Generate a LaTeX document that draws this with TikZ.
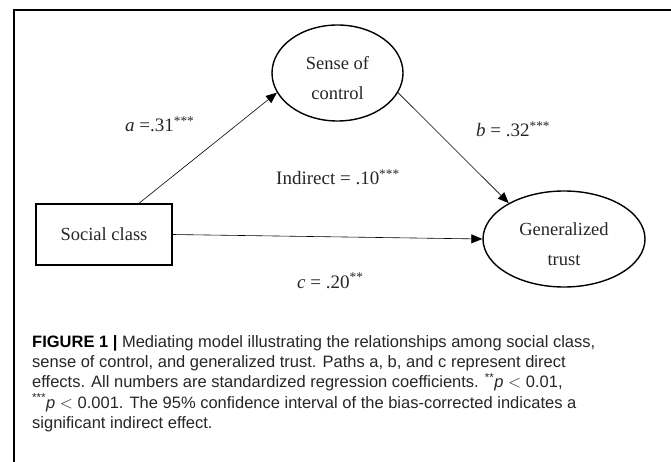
\documentclass[tikz,border=0pt]{standalone}
\usepackage{fontspec}
\setmainfont{Liberation Serif}
\newfontfamily\capfont{Liberation Sans}
\usetikzlibrary{shapes.geometric,arrows.meta}
\newcommand{\ellipsetext}[1]{\raisebox{-9.5pt}[0pt][0pt]{\begin{tabular}[c]{@{}c@{}}#1\end{tabular}}}
\begin{document}
\begin{tikzpicture}[x=1pt,y=-1pt,
  frameline/.style={line width=1.8pt,black},
  boxnode/.style={draw,line width=1.4pt,rectangle,minimum width=136pt,minimum height=61pt,inner sep=0pt,font=\fontsize{18.5}{30}\selectfont,text=black!85},
  ellnode/.style={draw,line width=1.4pt,ellipse,inner sep=0pt,font=\fontsize{18.5}{30}\selectfont,text=black!85},
  arr/.style={line width=0.6pt,-{Triangle[length=11pt,width=9pt]}},
  lbl/.style={anchor=base west,inner sep=0pt,font=\fontsize{19}{22}\selectfont,text=black!85},
  captext/.style={anchor=north west,inner sep=0pt,align=left,text=black!85,font=\capfont\fontsize{16.5}{20.3}\selectfont}
]
\useasboundingbox (0,0) rectangle (671,462);
\coordinate (ftl) at (14,10);
\coordinate (ftr) at (671,10);
\coordinate (fbl) at (14,462);
\draw[frameline] (ftr) -- (ftl) -- (fbl);

\node[boxnode] (soc) at (104,234.5) {Social class};
\node[ellnode,minimum width=131pt,minimum height=96pt] (sense) at (337.5,73) {\ellipsetext{Sense of\\control}};
\node[ellnode,minimum width=162pt,minimum height=96pt] (trust) at (564,239) {\ellipsetext{Generalized\\trust}};

\draw[arr] ([xshift=35pt]soc.north) -- (sense.198);
\draw[arr] (sense.-18) -- (trust.147);
\draw[arr] (soc.east) -- (trust.west);

\node[lbl] (la) at (125,132) {\textit{a} =.31\textsuperscript{***}};
\node[lbl] (lb) at (476,137) {\textit{b} = .32\textsuperscript{***}};
\node[lbl] (li) at (276,185) {Indirect = .10\textsuperscript{***}};
\node[lbl] (lc) at (297,288) {\textit{c} = .20\textsuperscript{**}};

\node[captext] (cap) at (32,335) {{\bfseries\color{black}FIGURE 1 |} Mediating model illustrating the relationships among social class,\\
sense of control, and generalized trust. Paths a, b, and c represent direct\\
effects. All numbers are standardized regression coefficients. \textsuperscript{**}\textit{p} $<$ 0.01,\\
\textsuperscript{***}\textit{p} $<$ 0.001. The 95\% confidence interval of the bias-corrected indicates a\\
significant indirect effect.};
\end{tikzpicture}
\end{document}
